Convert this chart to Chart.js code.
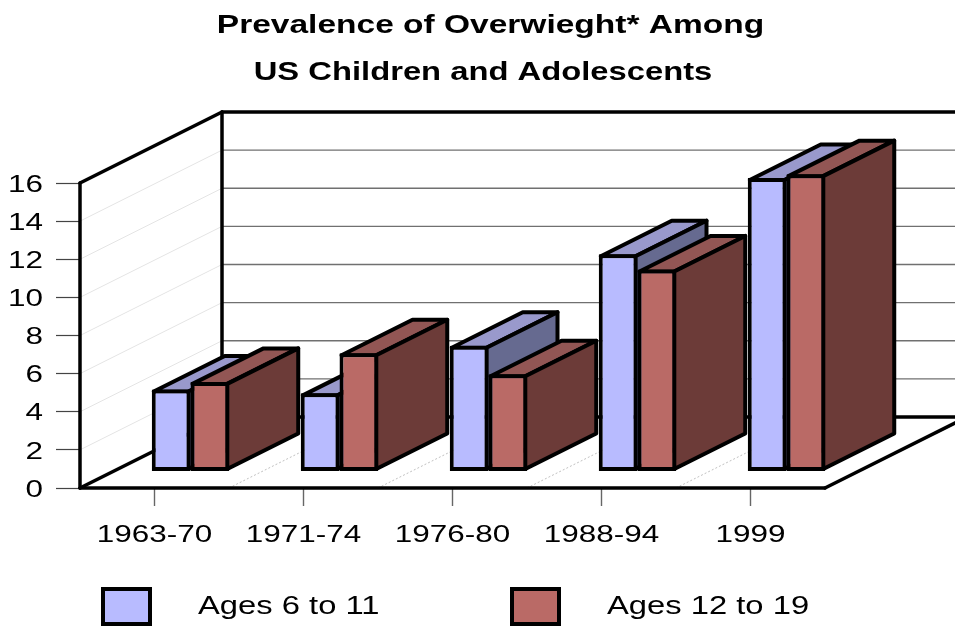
<!DOCTYPE html>
<html>
<head>
<meta charset="utf-8">
<script src="https://cdn.jsdelivr.net/npm/chart.js@4"></script>
<style>
body { margin: 0; background: #fff; overflow: hidden; }
canvas { display: block; }
</style>
</head>
<body>
<canvas id="graph" width="955" height="626"></canvas>
<script>
const categories = ['1963-70', '1971-74', '1976-80', '1988-94', '1999'];
const ages6to11 = [4.3, 4.1, 6.6, 11.4, 15.4];
const ages12to19 = [4.7, 6.2, 5.1, 10.6, 15.6];
const seriesNames = ['Ages 6 to 11', 'Ages 12 to 19'];
const titleLines = ['Prevalence of Overwieght* Among', 'US Children and Adolescents'];

const fontName = '"Liberation Sans", Arial, sans-serif';
// front, top and side colours of each series
const blues = ['#b8bbff', '#9999cc', '#666a90'];
const reds = ['#ba6a66', '#925654', '#6c3b38'];

// the original text is wider than any installed font, so stretch it sideways
const graphTarget = document.getElementById('graph');
const ctx = graphTarget.getContext('2d');
const plainFillText = ctx.fillText;
ctx.fillText = function (text, x, y) {
    let stretch = 1.31;
    if (text === titleLines[0]) stretch = 1.34;
    if (text === titleLines[1]) x -= 7.5;
    ctx.save();
    ctx.translate(x, y + 2);
    ctx.scale(stretch, 1);
    plainFillText.call(ctx, text, 0, 0);
    ctx.restore();
};

const wallDx = 142, wallDy = -71;   // depth of the room
const barDx = 71, barDy = -35.5;    // depth of one bar
const barShiftX = 36, barShiftY = -16.5;
const heavy = 3.5, barLine = 4;

const line = (x1, y1, x2, y2) => {
    ctx.beginPath();
    ctx.moveTo(x1, y1);
    ctx.lineTo(x2, y2);
    ctx.stroke();
};

const poly = (points, fill) => {
    ctx.beginPath();
    points.forEach((p, i) => i ? ctx.lineTo(p[0], p[1]) : ctx.moveTo(p[0], p[1]));
    ctx.closePath();
    ctx.fillStyle = fill;
    ctx.fill();
    ctx.stroke();
};

const drawRoom = chart => {
    const { x, y } = chart.scales;
    const { left, right, top, bottom } = chart.chartArea;
    const backX = left + wallDx;
    const edge = chart.width;
    ctx.save();

    // grid lines on the two walls
    y.ticks.forEach(t => {
        const py = y.getPixelForValue(t.value);
        if (t.value === 0 || t.value === 16) return;
        ctx.lineWidth = 1;
        ctx.strokeStyle = '#e4e4e4';
        line(left, py, backX, py + wallDy);
        ctx.lineWidth = 1.4;
        ctx.strokeStyle = '#707070';
        line(backX, py + wallDy, edge, py + wallDy);
    });

    // dotted lines across the floor
    const step = (right - left) / categories.length;
    ctx.lineWidth = 1;
    ctx.strokeStyle = '#c0c0c0';
    ctx.setLineDash([2, 2]);
    categories.forEach((c, i) => {
        if (i === 0) return;
        const fx = x.getPixelForValue(i) - step / 2;
        line(fx, bottom, fx + wallDx, bottom + wallDy);
    });
    ctx.setLineDash([]);

    // heavy outline of the room
    ctx.lineWidth = heavy;
    ctx.strokeStyle = '#000';
    ctx.lineCap = 'round';
    line(left, top, left, bottom);
    line(left, bottom, right, bottom);
    line(left, top, backX, top + wallDy);
    line(backX, top + wallDy, backX, bottom + wallDy);
    line(backX, top + wallDy, edge, top + wallDy);
    line(backX, bottom + wallDy, edge, bottom + wallDy);
    line(left, bottom, backX, bottom + wallDy);
    line(right, bottom, right + wallDx, bottom + wallDy);
    ctx.restore();
};

const drawBarDepth = (meta, shades) => {
    const inset = barLine / 2;
    ctx.save();
    ctx.lineWidth = barLine;
    ctx.strokeStyle = '#000';
    ctx.lineJoin = 'round';
    meta.data.forEach(bar => {
        const b = bar.getProps(['x', 'y', 'base', 'width'], true);
        const l = b.x - b.width / 2 + inset, r = b.x + b.width / 2 - inset;
        const t = b.y + inset, f = b.base - inset;
        poly([[l, t], [l + barDx, t + barDy], [r + barDx, t + barDy], [r, t]], shades[1]);
        poly([[r, t], [r + barDx, t + barDy], [r + barDx, f + barDy], [r, f]], shades[2]);
    });
    ctx.restore();
};

const drawLegend = () => {
    ctx.save();
    ctx.textBaseline = 'middle';
    ctx.textAlign = 'left';
    ctx.font = '25px ' + fontName;
    [[103, 198, blues[0]], [512, 607, reds[0]]].forEach((item, i) => {
        ctx.fillStyle = item[2];
        ctx.strokeStyle = '#000';
        ctx.lineWidth = barLine;
        ctx.fillRect(item[0], 589, 47, 35);
        ctx.strokeRect(item[0], 589, 47, 35);
        ctx.fillStyle = '#000';
        ctx.fillText(seriesNames[i], item[1], 605);
    });
    ctx.restore();
};

const room3d = {
    id: 'room3d',
    afterLayout(chart) {
        // title sits to the right of the canvas centre
        chart.titleBlock.left += 78;
        chart.titleBlock.right += 78;
    },
    beforeDatasetsDraw(chart) {
        drawRoom(chart);

        // left bar first so the right one overlaps it, and both
        // stand back from the front edge of the floor
        ctx.save();
        ctx.translate(barShiftX, barShiftY);
        [blues, reds].forEach((shades, i) => {
            const meta = chart.getDatasetMeta(i);
            drawBarDepth(meta, shades);
            meta.controller.draw();
        });
        ctx.restore();

        drawLegend();
        return false;
    }
};

new Chart(ctx, {
    type: 'bar',
    plugins: [room3d],
    data: {
        labels: categories,
        datasets: [
            { label: seriesNames[0], data: ages6to11, backgroundColor: blues[0] },
            { label: seriesNames[1], data: ages12to19, backgroundColor: reds[0] }
        ]
    },
    options: {
        responsive: false,
        animation: false,
        datasets: {
            bar: {
                borderColor: '#000',
                borderWidth: barLine,
                borderSkipped: false,
                categoryPercentage: 0.52,
                barPercentage: 1.0
            }
        },
        layout: { padding: { right: 130 } },
        plugins: {
            legend: { display: false },
            tooltip: { enabled: false },
            title: {
                display: true,
                text: titleLines,
                color: '#000',
                font: { family: fontName, size: 25, weight: 'bold', lineHeight: 1.88 },
                padding: { top: 1, bottom: 88 }
            }
        },
        scales: {
            x: {
                afterFit: scale => { scale.height = 138; },
                grid: { offset: false, drawOnChartArea: false, tickLength: 18, tickColor: '#666', tickWidth: 1.4 },
                border: { display: false },
                ticks: {
                    color: '#000',
                    padding: 13,
                    autoSkip: false,
                    maxRotation: 0,
                    font: { family: fontName, size: 24 }
                }
            },
            y: {
                min: 0,
                max: 16,
                afterFit: scale => { scale.width = 80; },
                grid: { drawOnChartArea: false, tickLength: 24, tickColor: '#444', tickWidth: 1.2 },
                border: { display: false },
                ticks: {
                    stepSize: 2,
                    color: '#000',
                    padding: 13,
                    font: { family: fontName, size: 24 }
                }
            }
        }
    }
});
</script>
</body>
</html>
